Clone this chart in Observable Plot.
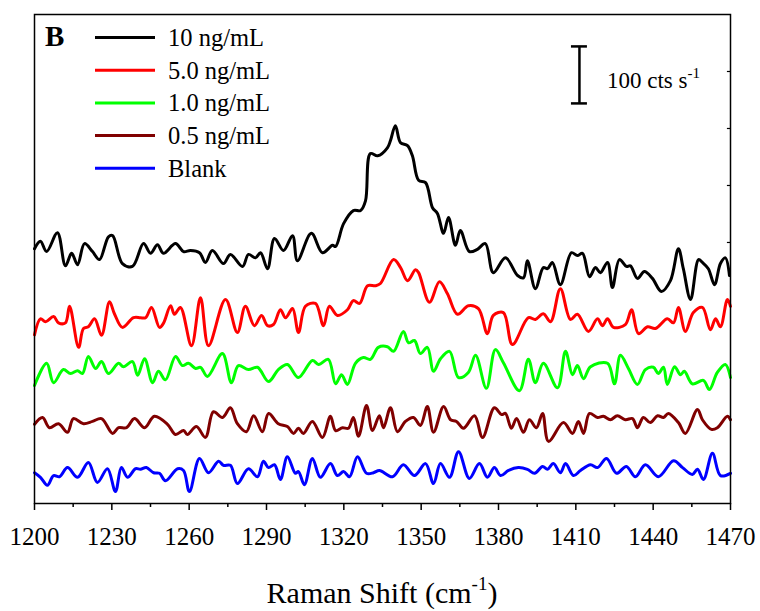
<!DOCTYPE html>
<html>
<head>
<meta charset="utf-8">
<script src="https://cdn.jsdelivr.net/npm/d3@7"></script>
<script src="https://cdn.jsdelivr.net/npm/@observablehq/plot@0.6"></script>
<style>
  html, body { margin: 0; padding: 0; background: white; }
  svg text { font-family: 'Liberation Serif', 'Times New Roman', Times, serif !important; }
</style>
</head>
<body>
<div id="chart"></div>
<script>
const seriesNames = ["10 ng/mL", "5.0 ng/mL", "1.0 ng/mL", "0.5 ng/mL", "Blank"];
const seriesColors = ["#000000", "#ff0000", "#00ff00", "#800000", "#0000ff"];
const panelLabel = "B";
const xTitle = "Raman Shift (cm";
const xTitleSup = "-1";
const majorTicks = [1200, 1230, 1260, 1290, 1320, 1350, 1380, 1410, 1440, 1470];
const minorTicks = [1215, 1245, 1275, 1305, 1335, 1365, 1395, 1425, 1455];
const rightTicks = [458, 558, 658, 758];
const scaleBar = {x: 1411.4, y1: 702, y2: 802, label: "100 cts s", sup: "-1"};

// [Raman shift (cm-1), intensity (cts, offset)]
const s10 = [[1200,447],[1202.3,460],[1204.7,442],[1208.9,475],[1212,417],[1214.4,439],[1216.7,419],[1219.4,456],[1222.5,442],[1225.2,428],[1228.7,468],[1230.3,470],[1234.1,421],[1238,416],[1242.3,456],[1245,439],[1247.7,454],[1250,439],[1254.7,456],[1257.8,442],[1260.5,444],[1264,440],[1266.3,423],[1269,444],[1273.3,421],[1276,437],[1280.7,416],[1283,437],[1285.7,431],[1287.7,440],[1290.4,412],[1293.1,465],[1296.6,444],[1300.1,470],[1302,426],[1307.4,474],[1311.7,440],[1315.6,453],[1316.8,451],[1319.9,491],[1323.7,514],[1326.5,514],[1328.4,531],[1330.3,614],[1333.1,610],[1336.9,624],[1338.1,637],[1340,663],[1342,633],[1344.7,628],[1346.6,610],[1349,567],[1351.7,563],[1354.4,519],[1356.3,509],[1358.7,474],[1360.6,502],[1363.3,453],[1365.2,479],[1368.7,442],[1371.8,446],[1374.9,456],[1378,405],[1382.7,431],[1387.4,400],[1389.7,396],[1391.2,426],[1394.3,377],[1397.4,414],[1399,412],[1400.9,423],[1404,384],[1408.3,440],[1410.6,435],[1412.6,439],[1415.3,398],[1417.6,414],[1419.5,405],[1422.3,423],[1424.2,379],[1426.9,428],[1429.6,416],[1431.2,417],[1433.9,395],[1436.6,407],[1439.7,395],[1443.2,372],[1446.7,391],[1449.8,447],[1451.7,412],[1454.5,358],[1457.6,428],[1459.1,423],[1461.4,412],[1463.8,384],[1466.1,421],[1468,431],[1469.6,400]];

const s5 = [[1200,296],[1202.3,324],[1204.3,319],[1207.4,328],[1209.3,317],[1212,317],[1213.6,346],[1217.1,274],[1219,307],[1220.9,310],[1223.3,324],[1226,295],[1229.1,354],[1231,333],[1234.1,309],[1238.4,326],[1241.1,326],[1243.1,326],[1245.4,344],[1248.5,309],[1250,316],[1252.8,347],[1254.3,332],[1256.6,344],[1260.9,277],[1264.4,361],[1267.5,277],[1274.1,358],[1278.7,300],[1281.8,346],[1285.3,312],[1288.1,330],[1290.4,312],[1292.7,314],[1295.4,340],[1297.4,326],[1300.1,342],[1302.4,300],[1305.1,346],[1309,351],[1312.1,312],[1314.4,346],[1317.5,330],[1321.4,340],[1323.7,356],[1326.1,351],[1329.2,382],[1332.3,382],[1334.2,386],[1339.3,428],[1342,414],[1344.7,391],[1347.8,410],[1349,405],[1353.2,353],[1357.1,389],[1360.2,368],[1364.1,332],[1368.3,347],[1372.2,342],[1375.7,298],[1378,330],[1381.9,335],[1385.4,279],[1391.6,326],[1394.3,323],[1397.4,333],[1400.2,319],[1404,377],[1407.9,323],[1410.6,332],[1414.9,302],[1418.4,324],[1420.3,312],[1422.3,324],[1424.6,309],[1429.2,314],[1431.6,340],[1434.3,298],[1437.8,310],[1440.9,307],[1445.5,324],[1447.9,317],[1449.8,344],[1452.5,302],[1455.6,335],[1459.1,344],[1462.2,305],[1464.2,324],[1466.1,310],[1468.8,358],[1470,346]];

const s1 = [[1200,207],[1204.7,246],[1207.4,212],[1211.2,235],[1214,228],[1216.7,233],[1218.6,228],[1220.9,258],[1223.7,237],[1226,249],[1228.7,228],[1232.6,246],[1234.5,240],[1238,249],[1240,225],[1242.7,254],[1245.8,212],[1248.1,232],[1250.8,217],[1254.7,258],[1257.4,242],[1259.7,246],[1262.5,237],[1264.4,239],[1267.1,223],[1272.9,263],[1276.4,212],[1279.1,242],[1283,235],[1286.5,239],[1290.8,214],[1294.6,235],[1298.1,244],[1302.4,221],[1307.8,251],[1310.2,244],[1314,253],[1316.8,210],[1319.1,226],[1321.4,209],[1324.5,246],[1327.6,256],[1330.3,253],[1333.4,274],[1336.9,275],[1339.3,267],[1343.1,302],[1345.1,282],[1347.4,286],[1349.7,263],[1352.4,274],[1354.8,232],[1357.5,254],[1361,267],[1364.5,221],[1368.3,230],[1371.1,260],[1375.3,202],[1378.8,270],[1381.9,247],[1388.1,198],[1391.6,253],[1394.3,212],[1397.4,246],[1402.9,203],[1406,267],[1408.7,226],[1410.6,242],[1413,219],[1415.7,240],[1422.3,246],[1425,210],[1427.3,260],[1430.4,237],[1433.9,209],[1437,235],[1440.1,239],[1442,228],[1444,239],[1445.5,209],[1448.3,240],[1450.6,226],[1452.1,232],[1455.2,210],[1459.5,216],[1461.8,200],[1464.9,230],[1468,244],[1470,221]];

const s05 = [[1200,139],[1203.1,151],[1205.8,133],[1209.3,140],[1212.8,125],[1215.1,149],[1219,140],[1222.5,144],[1226,149],[1230.3,123],[1232.6,133],[1235.7,133],[1238.8,149],[1242.7,133],[1246.5,153],[1251.6,139],[1254.7,121],[1257.8,128],[1259.3,121],[1262.8,135],[1266.3,116],[1269.4,161],[1272.9,151],[1276,168],[1278.7,140],[1282.2,126],[1285,154],[1288.4,126],[1290.8,158],[1294.6,140],[1298.1,135],[1300.5,123],[1302.4,132],[1304.3,123],[1307.8,144],[1311.7,116],[1314.8,153],[1316.8,128],[1319.5,133],[1321.8,132],[1323.7,151],[1325.7,118],[1328.8,172],[1331.1,128],[1333.8,154],[1335.4,133],[1338.1,168],[1340.8,126],[1343.9,144],[1347,151],[1349.7,137],[1352.4,170],[1354.8,125],[1358.7,170],[1361.4,147],[1363.7,144],[1366.4,132],[1370.7,154],[1373.8,116],[1378.4,168],[1381.2,156],[1382.7,158],[1385,132],[1387,149],[1389.7,125],[1392,147],[1394.7,133],[1397.1,158],[1399.4,109],[1405.2,142],[1408.7,123],[1411,144],[1413,123],[1415.3,158],[1418.4,151],[1420.7,153],[1423.4,147],[1426.1,154],[1429.2,147],[1432,149],[1433.9,133],[1436.2,151],[1438.9,142],[1441.7,154],[1444,151],[1445.9,158],[1449.8,142],[1452.5,123],[1457.2,165],[1459.1,147],[1462.6,130],[1464.9,133],[1468.8,153],[1470,147]];

const sBlank = [[1200,54],[1202.3,46],[1205,32],[1207.4,49],[1209.7,47],[1212.8,63],[1216.7,46],[1220.9,72],[1224.4,37],[1228.3,61],[1231.4,21],[1233.7,63],[1236.1,46],[1239.2,61],[1241.1,60],[1243.4,63],[1246.2,54],[1248.5,53],[1250.8,40],[1255.5,61],[1257.8,58],[1260.1,21],[1264,79],[1267.5,54],[1271.4,74],[1273.3,67],[1276,67],[1278.7,35],[1283,61],[1286.5,47],[1288.8,74],[1290.8,63],[1293.1,68],[1295.4,42],[1298.1,82],[1301.2,53],[1302.4,56],[1304.7,33],[1307.8,79],[1310.9,46],[1314.8,70],[1317.5,49],[1319.9,56],[1322.2,47],[1325.3,82],[1328.8,53],[1331.5,54],[1333.8,58],[1338.9,47],[1343.1,68],[1347.4,49],[1351.7,70],[1354.8,35],[1357.5,70],[1361,46],[1364.5,91],[1368.7,44],[1372.6,70],[1375.7,46],[1378.4,63],[1380.8,49],[1383.9,58],[1387.7,63],[1391.2,60],[1394,53],[1397.1,65],[1399,60],[1401.3,70],[1404,54],[1406,70],[1409.1,49],[1411.8,58],[1415.7,68],[1418.4,63],[1421.9,79],[1425.8,53],[1429.6,65],[1433.1,47],[1437,68],[1442,47],[1447.9,75],[1451.4,63],[1455.2,51],[1457.2,60],[1459.5,42],[1463,88],[1466.1,49],[1470,53]];

const seriesData = [s10, s5, s1, s05, sBlank];

const rows = seriesData.flatMap((arr, i) => arr.map(([x, y]) => ({series: seriesNames[i], x, y})));

const FONT = "'Liberation Serif', 'Times New Roman', Times, serif";

const chart = Plot.plot({
  width: 760,
  height: 611,
  marginLeft: 34,
  marginRight: 30,
  marginTop: 14,
  marginBottom: 108,
  style: {fontFamily: FONT, background: "white", color: "black", overflow: "visible"},
  x: {domain: [1200, 1470]},
  y: {domain: [0, 858], axis: null},
  color: {domain: seriesNames, range: seriesColors},
  marks: [
    Plot.line(rows, {x: "x", y: "y", z: "series", stroke: "series", strokeWidth: 3, curve: "catmull-rom", strokeLinejoin: "round", strokeLinecap: "round"}),
    Plot.frame({stroke: "black", strokeWidth: 1.5}),
    Plot.axisX({ticks: majorTicks, tickSize: 7, tickPadding: 17, fontSize: 25, fontFamily: FONT, label: null, tickFormat: d => String(d), strokeWidth: 1.5}),
    Plot.axisX({ticks: minorTicks, tickSize: 4, tickFormat: () => "", label: null, strokeWidth: 1.5}),
    Plot.ruleY(rightTicks, {y: d => d, x1: 1468.8, x2: 1470, stroke: "black", strokeWidth: 1.2}),
    Plot.ruleX([scaleBar], {x: "x", y1: "y1", y2: "y2", stroke: "black", strokeWidth: 2.5}),
    Plot.ruleY([scaleBar.y1, scaleBar.y2], {y: d => d, x1: scaleBar.x - 3.1, x2: scaleBar.x + 3.1, stroke: "black", strokeWidth: 2.5})
  ]
});

document.getElementById("chart").appendChild(chart);

const svg = d3.select(chart);
svg.selectAll("text").style("font-family", FONT);
const xs = chart.scale("x");
const ys = chart.scale("y");

// Panel label
svg.append("text").attr("x", 45).attr("y", 46).attr("text-anchor", "start")
  .style("font-family", FONT).attr("font-size", 29).attr("font-weight", "bold")
  .attr("fill", "black").text(panelLabel);

// Legend
const legendX1 = 95, legendX2 = 155, legendTextX = 168, legendTop = 37.5, legendStep = 32.7;
seriesNames.forEach((name, i) => {
  const ly = legendTop + i * legendStep;
  svg.append("line").attr("x1", legendX1).attr("x2", legendX2).attr("y1", ly).attr("y2", ly)
    .attr("stroke", seriesColors[i]).attr("stroke-width", 3);
  svg.append("text").attr("x", legendTextX).attr("y", ly + 8.5).attr("text-anchor", "start")
    .style("font-family", FONT).attr("font-size", 24.5).attr("fill", "black").text(name);
});

// Scale bar label
const sbText = svg.append("text")
  .attr("x", xs.apply(scaleBar.x) + 28)
  .attr("y", (ys.apply(scaleBar.y1) + ys.apply(scaleBar.y2)) / 2 + 14)
  .attr("text-anchor", "start")
  .style("font-family", FONT).attr("font-size", 23).attr("fill", "black");
sbText.append("tspan").text(scaleBar.label);
sbText.append("tspan").attr("font-size", 15).attr("dy", -10).text(scaleBar.sup);

// X axis title
const title = svg.append("text")
  .attr("x", 382).attr("y", 603).attr("text-anchor", "middle")
  .style("font-family", FONT).attr("font-size", 30).attr("fill", "black");
title.append("tspan").text(xTitle);
title.append("tspan").attr("font-size", 19).attr("dy", -13).text(xTitleSup);
title.append("tspan").attr("dy", 13).text(")");
</script>
</body>
</html>
